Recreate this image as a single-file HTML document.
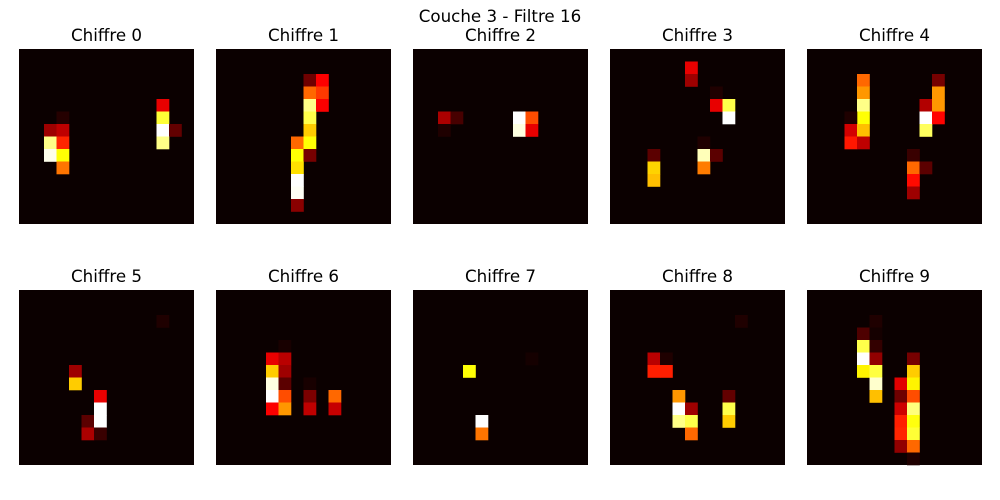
<!DOCTYPE html>
<html><head><meta charset="utf-8">
<style>
html,body{margin:0;padding:0;background:#fff;}
svg{display:block;}
text{font-family:"DejaVu Sans","Liberation Sans",sans-serif;font-size:16.7px;fill:#000;}
</style></head>
<body>
<svg id="fig" width="1000" height="500" viewBox="0 0 1000 500">
<text x="500" y="22" text-anchor="middle">Couche 3 - Filtre 16</text>
</svg>
<script>
// sparse cells: [row, col, value]; all other cells are 0
const digitLabels = ["Chiffre 0","Chiffre 1","Chiffre 2","Chiffre 3","Chiffre 4","Chiffre 5","Chiffre 6","Chiffre 7","Chiffre 8","Chiffre 9"];
const cells0 = [[5,3,0.04],[6,2,0.22],[6,3,0.27],[7,2,0.88],[7,3,0.42],[8,2,0.98],[8,3,0.75],[9,3,0.54],[4,11,0.33],[5,11,0.8],[6,11,1.0],[6,12,0.13],[7,11,0.88]];
const cells1 = [[2,7,0.15],[2,8,0.36],[3,7,0.52],[3,8,0.45],[4,7,0.88],[4,8,0.36],[5,7,0.82],[6,7,0.67],[7,6,0.52],[7,7,0.75],[8,6,0.75],[8,7,0.16],[9,6,0.7],[10,6,1.0],[11,6,0.99],[12,6,0.19]];
const cells2 = [[5,2,0.24],[5,3,0.09],[6,2,0.03],[5,8,1.0],[5,9,0.48],[6,8,0.97],[6,9,0.33]];
const cells3 = [[1,6,0.33],[2,6,0.22],[3,8,0.03],[4,8,0.33],[4,9,0.82],[5,9,1.0],[7,7,0.03],[8,3,0.12],[8,7,0.93],[8,8,0.12],[9,3,0.68],[9,7,0.55],[10,3,0.65]];
const cells4 = [[2,4,0.52],[3,4,0.59],[4,4,0.88],[5,4,0.75],[5,3,0.03],[6,3,0.3],[6,4,0.65],[7,3,0.4],[7,4,0.27],[2,10,0.16],[3,10,0.59],[4,9,0.25],[4,10,0.59],[5,9,1.0],[5,10,0.37],[6,9,0.84],[8,8,0.07],[9,8,0.52],[9,9,0.12],[10,8,0.38],[11,8,0.22]];
const cells5 = [[2,11,0.03],[6,4,0.22],[7,4,0.67],[8,6,0.33],[9,6,1.0],[10,5,0.12],[10,6,1.0],[11,5,0.24],[11,6,0.07]];
const cells6 = [[4,5,0.02],[5,4,0.33],[5,5,0.26],[6,4,0.67],[6,5,0.22],[7,4,0.97],[7,5,0.12],[7,7,0.02],[8,4,1.0],[8,5,0.48],[8,7,0.17],[8,9,0.52],[9,4,0.36],[9,5,0.59],[9,7,0.27],[9,9,0.28]];
const cells7 = [[5,9,0.015],[6,4,0.75],[10,5,1.0],[11,5,0.54]];
const cells8 = [[2,10,0.03],[5,3,0.26],[5,4,0.03],[6,3,0.41],[6,4,0.41],[8,5,0.59],[8,9,0.13],[9,5,1.0],[9,6,0.22],[9,9,0.82],[10,5,0.88],[10,6,0.82],[10,9,0.67],[11,6,0.52]];
const cells9 = [[2,5,0.03],[3,4,0.1],[3,5,0.015],[4,4,0.82],[4,5,0.06],[5,4,1.0],[5,5,0.2],[5,8,0.16],[6,4,0.73],[6,5,0.81],[6,8,0.67],[7,5,0.95],[7,7,0.32],[7,8,0.73],[8,5,0.65],[8,7,0.15],[8,8,0.48],[9,7,0.29],[9,8,0.87],[10,7,0.41],[10,8,0.76],[11,7,0.42],[11,8,0.8],[12,7,0.2],[12,8,0.52],[13,8,0.03]];
const allCells = [cells0,cells1,cells2,cells3,cells4,cells5,cells6,cells7,cells8,cells9];

const NS = "http://www.w3.org/2000/svg";
const svg = document.getElementById("fig");
const N = 14, W = 175;
const lefts = [19,216,413,610,807], tops = [49,290];
function hot(v){
  const r = Math.min(1, 0.0416 + v/0.365*(1-0.0416));
  const g = Math.max(0, Math.min(1,(v-0.365)/0.381));
  const b = Math.max(0, Math.min(1,(v-0.746)/0.254));
  return "rgb("+Math.round(r*255)+","+Math.round(g*255)+","+Math.round(b*255)+")";
}
const cw = W/N;
function xScale(c,k){ return lefts[k%5] + c*cw; }
function yScale(r,k){ return tops[Math.floor(k/5)] + r*cw; }
allCells.forEach((cells,k)=>{
  const g = document.createElementNS(NS,"g");
  
  
  svg.appendChild(g);
  const bg = document.createElementNS(NS,"rect");
  bg.setAttribute("x",xScale(0,k)); bg.setAttribute("y",yScale(0,k));
  bg.setAttribute("width",W); bg.setAttribute("height",W);
  bg.setAttribute("fill",hot(0));
  
  
  g.appendChild(bg);
  cells.forEach(([r,c,v])=>{
    const rc = document.createElementNS(NS,"rect");
    rc.setAttribute("x",xScale(c,k)); rc.setAttribute("y",yScale(r,k));
    rc.setAttribute("width",cw+0.3); rc.setAttribute("height",cw+0.3);
    rc.setAttribute("fill",hot(v));
    
    
    g.appendChild(rc);
  });
  const t = document.createElementNS(NS,"text");
  t.setAttribute("x",xScale(0,k)+W/2); t.setAttribute("y",yScale(0,k)-8);
  t.setAttribute("text-anchor","middle");
  t.textContent = digitLabels[k];
  
  
  svg.appendChild(t);
});
</script>
</body></html>
